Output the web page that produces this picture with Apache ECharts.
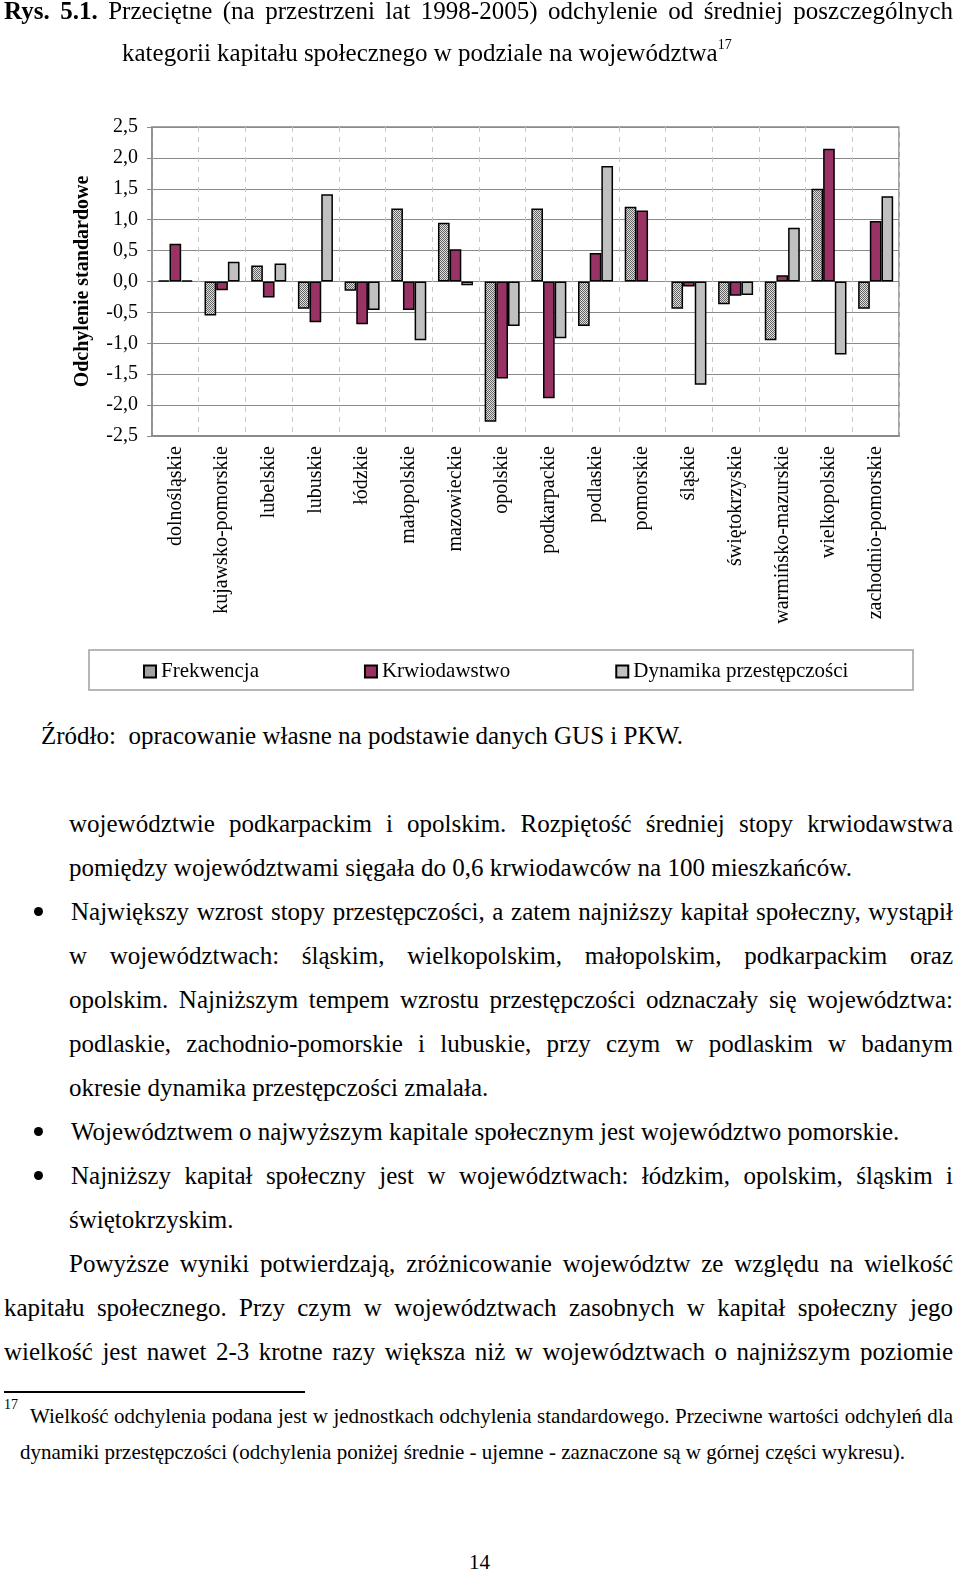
<!DOCTYPE html>
<html lang="pl">
<head>
<meta charset="utf-8">
<script src="https://cdn.jsdelivr.net/npm/echarts@6/dist/echarts.min.js"></script>
<style>
  html, body { margin:0; padding:0; background:#fff; }
  body { width:960px; height:1573px; position:relative; overflow:hidden; font-family:'Liberation Serif','Times New Roman',serif; color:#000; }
  #chart { position:absolute; left:0; top:0; width:960px; height:710px; }
  .ln { position:absolute; font-size:25px; line-height:25px; white-space:nowrap; }
  .fn { position:absolute; font-size:21px; line-height:21px; white-space:nowrap; }
  .bul { position:absolute; left:34px; width:9px; height:9px; border-radius:50%; background:#000; }
  sup.s { font-size:14px; vertical-align:0; position:relative; top:-12px; }
</style>
</head>
<body>
<div id="chart"></div>

<!-- title -->
<div class="ln j" data-w="949" style="left:4px; top:-2px;"><b>Rys. 5.1.</b> Przeciętne (na przestrzeni lat 1998-2005) odchylenie od średniej poszczególnych</div>
<div class="ln" style="left:122px; top:40px;">kategorii kapitału społecznego w podziale na województwa<sup class="s">17</sup></div>

<!-- source -->
<div class="ln" style="left:41px; top:723px;">Źródło:&nbsp; opracowanie własne na podstawie danych GUS i PKW.</div>

<!-- body -->
<div class="ln j" data-w="884" style="left:69px; top:811px;">województwie podkarpackim i opolskim. Rozpiętość średniej stopy krwiodawstwa</div>
<div class="ln" style="left:69px; top:855px;">pomiędzy województwami sięgała do 0,6 krwiodawców na 100 mieszkańców.</div>
<div class="bul" style="top:907px;"></div>
<div class="ln j" data-w="882" style="left:71px; top:899px;">Największy wzrost stopy przestępczości, a zatem najniższy kapitał społeczny, wystąpił</div>
<div class="ln j" data-w="884" style="left:69px; top:943px;">w województwach: śląskim, wielkopolskim, małopolskim, podkarpackim oraz</div>
<div class="ln j" data-w="884" style="left:69px; top:987px;">opolskim. Najniższym tempem wzrostu przestępczości odznaczały się województwa:</div>
<div class="ln j" data-w="884" style="left:69px; top:1031px;">podlaskie, zachodnio-pomorskie i lubuskie, przy czym w podlaskim w badanym</div>
<div class="ln" style="left:69px; top:1075px;">okresie dynamika przestępczości zmalała.</div>
<div class="bul" style="top:1127px;"></div>
<div class="ln" style="left:71px; top:1119px;">Województwem o najwyższym kapitale społecznym jest województwo pomorskie.</div>
<div class="bul" style="top:1171px;"></div>
<div class="ln j" data-w="882" style="left:71px; top:1163px;">Najniższy kapitał społeczny jest w województwach: łódzkim, opolskim, śląskim i</div>
<div class="ln" style="left:69px; top:1207px;">świętokrzyskim.</div>
<div class="ln j" data-w="884" style="left:69px; top:1251px;">Powyższe wyniki potwierdzają, zróżnicowanie województw ze względu na wielkość</div>
<div class="ln j" data-w="949" style="left:4px; top:1295px;">kapitału społecznego. Przy czym w województwach zasobnych w kapitał społeczny jego</div>
<div class="ln j" data-w="949" style="left:4px; top:1339px;">wielkość jest nawet 2-3 krotne razy większa niż w województwach o najniższym poziomie</div>

<!-- footnote -->
<div style="position:absolute; left:4px; top:1391px; width:301px; height:1.5px; background:#000;"></div>
<div class="fn" style="left:4px; top:1398px; font-size:14px; line-height:14px;">17</div>
<div class="fn j" data-w="923" style="left:30px; top:1406px;">Wielkość odchylenia podana jest w jednostkach odchylenia standardowego. Przeciwne wartości odchyleń dla</div>
<div class="fn" style="left:20px; top:1442px;">dynamiki przestępczości (odchylenia poniżej średnie - ujemne - zaznaczone są w górnej części wykresu).</div>
<div class="fn" style="left:469px; top:1552px;">14</div>

<script>
// ---------- data ----------
const categories = ['dolnośląskie','kujawsko-pomorskie','lubelskie','lubuskie','łódzkie','małopolskie','mazowieckie','opolskie','podkarpackie','podlaskie','pomorskie','śląskie','świętokrzyskie','warmińsko-mazurskie','wielkopolskie','zachodnio-pomorskie'];
const seriesNames = ['Frekwencja','Krwiodawstwo','Dynamika przestępczości'];
const frekwencja   = [0.02,-0.55, 0.26,-0.44,-0.15, 1.18, 0.95,-2.27, 1.18,-0.72, 1.21,-0.44,-0.37,-0.95, 1.50,-0.44];
const krwiodawstwo = [0.61,-0.14,-0.26,-0.66,-0.69,-0.46, 0.52,-1.57,-1.89, 0.46, 1.15,-0.08,-0.23, 0.10, 2.15, 0.98];
const dynamika     = [0.02, 0.32, 0.29, 1.41,-0.46,-0.95,-0.06,-0.72,-0.92, 1.87, null,-1.67,-0.22, 0.87,-1.18, 1.38];
const yTickLabels  = ['-2,5','-2,0','-1,5','-1,0','-0,5','0,0','0,5','1,0','1,5','2,0','2,5'];

// justify single lines
function justify(){
  document.querySelectorAll('.j').forEach(el=>{
    el.style.wordSpacing='0px';
    const nat = el.getBoundingClientRect().width;
    const n = (el.textContent.match(/ /g)||[]).length;
    if(n>0){ el.style.wordSpacing = ((+el.dataset.w - nat)/n)+'px'; }
  });
}
justify();
if(document.fonts && document.fonts.ready){ document.fonts.ready.then(justify); }

// checker pattern for Frekwencja
const pc = document.createElement('canvas');
pc.width = 2; pc.height = 2;
const px = pc.getContext('2d');
px.fillStyle = '#e0e0e0'; px.fillRect(0,0,2,2);
px.fillStyle = '#646464'; px.fillRect(0,0,1,1); px.fillRect(1,1,1,1);
const checker = { image: pc, repeat: 'repeat' };

const FONT = 'Liberation Serif';
const chart = echarts.init(document.getElementById('chart'), null, { renderer:'canvas' });
const border = { borderColor:'#000', borderWidth:1.5 };

chart.setOption({
  animation:false,
  grid:{ left:152, top:127, width:747, height:309, show:true, borderColor:'#8a8a8a', borderWidth:1.5, backgroundColor:'transparent' },
  legend:{
    data:seriesNames, left:143, top:661, padding:0, itemGap:105, itemWidth:12, itemHeight:12, icon:'rect',
    textStyle:{ fontFamily:FONT, fontSize:21, color:'#000' }
  },
  graphic:[{ type:'rect', shape:{ x:89, y:650, width:824, height:40 }, style:{ fill:'none', stroke:'#a0a0a0', lineWidth:1.5 }, silent:true }],
  xAxis:{
    type:'category', data:categories,
    axisLine:{ onZero:false, lineStyle:{ color:'#8a8a8a', width:2 } },
    axisTick:{ show:false },
    splitLine:{ show:true, lineStyle:{ color:'#c8c8c8', type:[5,5], width:1 } },
    axisLabel:{ rotate:90, interval:0, margin:10, fontFamily:FONT, fontSize:20, color:'#000' }
  },
  yAxis:{
    type:'value', min:-2.5, max:2.5, interval:0.5,
    name:'Odchylenie standardowe', nameLocation:'middle', nameGap:59, nameRotate:90,
    nameTextStyle:{ fontFamily:FONT, fontSize:20, fontWeight:'bold', color:'#000' },
    axisLine:{ show:true, lineStyle:{ color:'#8a8a8a', width:1.5 } },
    axisTick:{ show:true, length:5, lineStyle:{ color:'#8a8a8a' } },
    splitLine:{ show:true, lineStyle:{ color:'#8a8a8a', width:1 } },
    axisLabel:{ margin:14, fontFamily:FONT, fontSize:20, color:'#000',
      formatter:(v)=> yTickLabels[Math.round((v+2.5)/0.5)] }
  },
  series:[
    { name:seriesNames[0], type:'bar', data:frekwencja, barGap:'0%', barCategoryGap:'25%', itemStyle:Object.assign({ color:checker }, border) },
    { name:seriesNames[1], type:'bar', data:krwiodawstwo, barGap:'0%', barCategoryGap:'25%', itemStyle:Object.assign({ color:'#993366' }, border) },
    { name:seriesNames[2], type:'bar', data:dynamika, barGap:'0%', barCategoryGap:'25%', itemStyle:Object.assign({ color:'#c0c0c0' }, border) }
  ]
});
</script>
</body>
</html>
